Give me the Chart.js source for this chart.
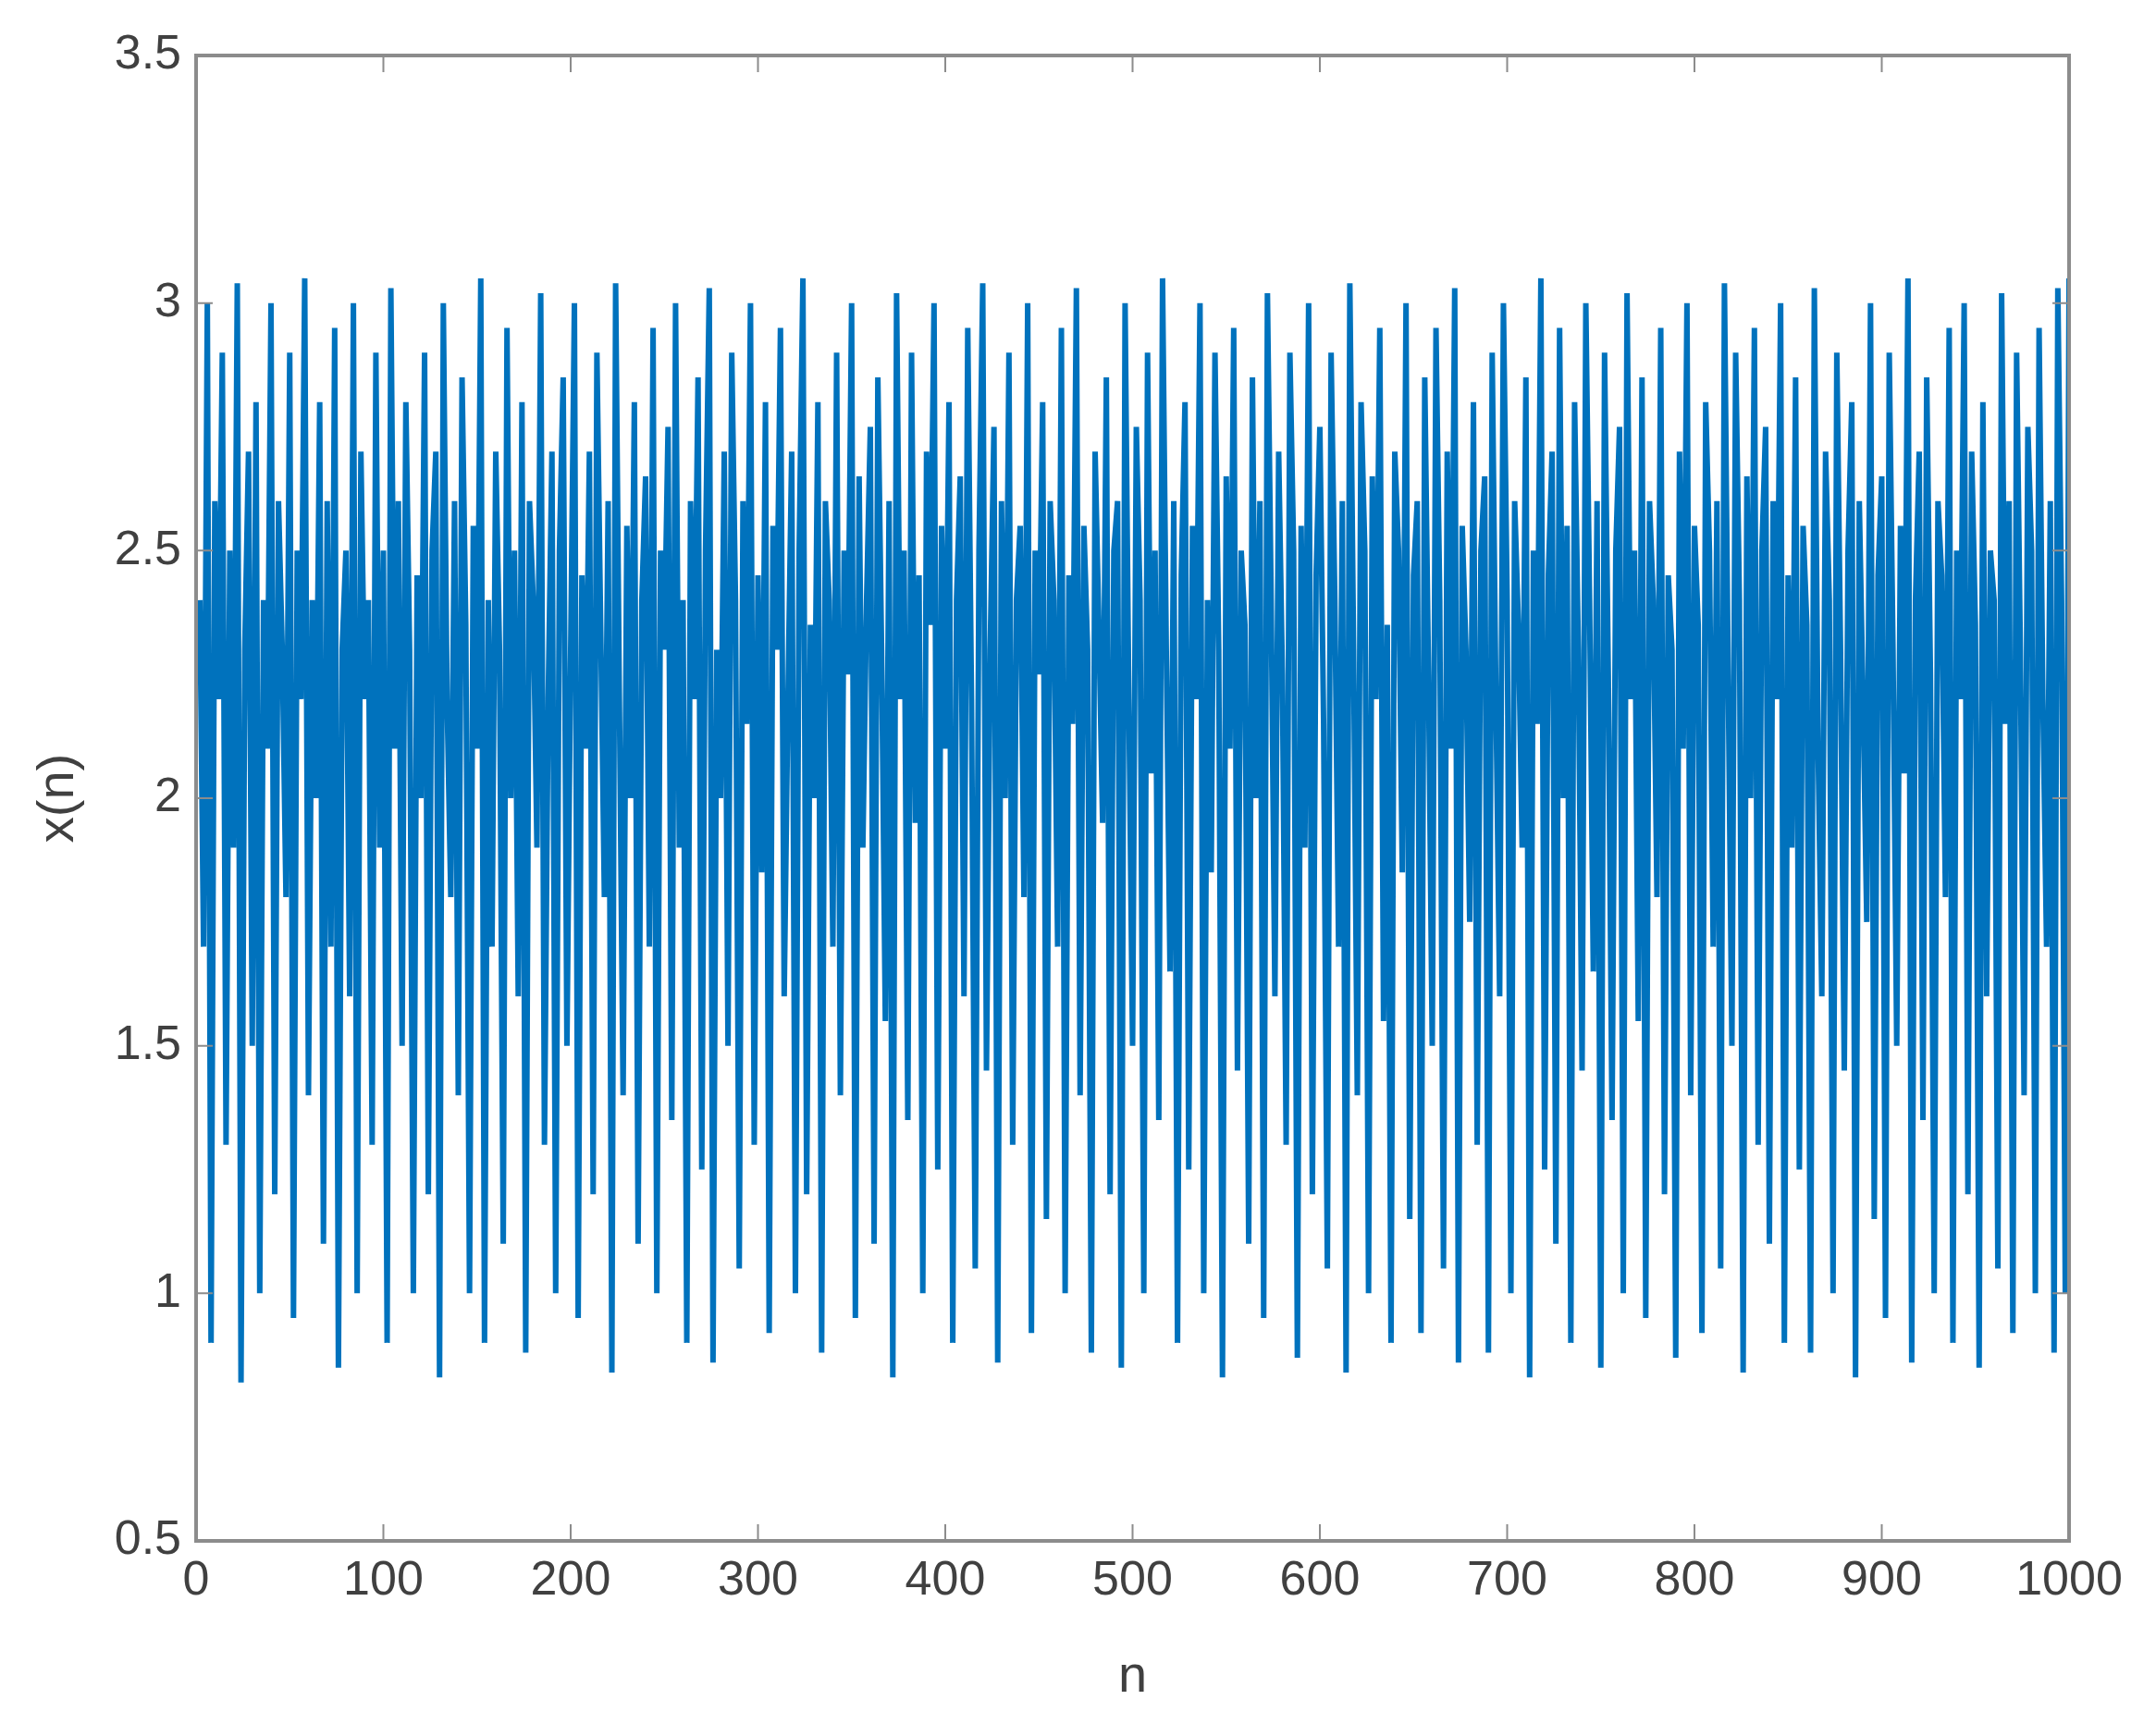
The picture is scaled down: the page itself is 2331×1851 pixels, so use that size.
<!DOCTYPE html>
<html><head><meta charset="utf-8">
<script src="https://cdn.jsdelivr.net/npm/chart.js@4/dist/chart.umd.min.js"></script>
<style>html,body{margin:0;padding:0;background:#fff}#c{display:block}</style>
</head><body>
<canvas id="c" width="2331" height="1851"></canvas>
<script>
const xTicks = [0,100,200,300,400,500,600,700,800,900,1000];
const yTicks = [0.5,1,1.5,2,2.5,3,3.5];
const xValues = [
2.4,1.7,3.0,0.9,2.6,2.2,2.9,1.3,2.5,1.9,3.04,0.82,2.3,2.7,1.5,2.8,1.0,2.4,2.1,3.0,
1.2,2.6,2.3,1.8,2.9,0.95,2.5,2.2,3.05,1.4,2.4,2.0,2.8,1.1,2.6,1.7,2.95,0.85,2.3,2.5,
1.6,3.0,1.0,2.7,2.2,2.4,1.3,2.9,1.9,2.5,0.9,3.03,2.1,2.6,1.5,2.8,2.3,1.0,2.45,2.0,
2.9,1.2,2.5,2.7,0.83,3.0,2.2,1.8,2.6,1.4,2.85,2.35,1.0,2.55,2.1,3.05,0.9,2.4,1.7,2.7,
2.3,1.1,2.95,2.0,2.5,1.6,2.8,0.88,2.6,2.4,1.9,3.02,1.3,2.2,2.7,1.0,2.5,2.85,1.5,2.3,
3.0,0.95,2.45,2.1,2.7,1.2,2.9,2.35,1.8,2.6,0.84,3.04,2.2,1.4,2.55,2.0,2.8,1.1,2.4,2.65,
1.7,2.95,1.0,2.5,2.3,2.75,1.35,3.0,1.9,2.4,0.9,2.6,2.2,2.85,1.25,2.5,3.03,0.86,2.3,2.0,
2.7,1.5,2.9,2.4,1.05,2.6,2.15,3.0,1.3,2.45,1.85,2.8,0.92,2.55,2.3,2.95,1.6,2.2,2.7,1.0,
2.5,3.05,1.2,2.35,2.0,2.8,0.88,2.6,2.4,1.7,2.9,1.4,2.5,2.25,3.0,0.95,2.65,1.9,2.4,2.75,
1.1,2.85,2.3,1.55,2.6,0.83,3.02,2.2,2.5,1.35,2.9,1.95,2.45,1.0,2.7,2.35,3.0,1.25,2.55,2.1,
2.8,0.9,2.4,2.65,1.6,2.95,2.2,1.05,2.5,3.04,1.45,2.3,2.75,0.86,2.6,2.0,2.9,1.3,2.4,2.55,
1.8,3.0,0.92,2.5,2.25,2.8,1.15,2.6,2.4,1.7,2.95,1.0,2.45,2.15,3.03,1.4,2.55,2.3,0.88,2.7,
2.35,1.95,2.85,1.2,2.5,2.6,0.85,3.0,2.2,1.5,2.75,2.4,1.0,2.9,2.05,2.5,1.35,3.05,2.3,1.65,
2.6,0.9,2.45,2.8,1.25,2.55,2.2,3.0,1.0,2.4,1.85,2.9,2.3,0.83,2.65,2.1,2.95,1.45,2.5,2.35,
1.1,2.85,2.0,2.6,0.95,3.02,2.4,1.6,2.7,2.25,1.3,2.9,2.5,0.87,2.55,1.9,3.0,1.2,2.45,2.75,
2.15,1.05,2.9,2.4,1.7,2.6,0.84,3.04,2.3,1.4,2.8,2.5,1.0,2.65,2.2,2.95,1.55,2.35,0.9,2.7,
2.5,1.85,3.0,1.15,2.45,2.6,0.92,2.85,2.25,1.5,2.95,2.4,1.05,2.7,2.1,3.03,0.86,2.55,2.3,1.75,
2.8,1.3,2.5,2.65,0.88,2.9,2.2,1.6,3.0,2.4,1.0,2.6,2.35,1.9,2.85,0.83,2.5,2.15,3.05,1.25,
2.45,2.7,1.1,2.95,2.0,2.55,0.9,2.8,2.3,1.45,3.0,2.4,1.65,2.6,0.85,2.9,2.25,1.35,2.5,2.75,
1.0,3.02,2.2,2.5,1.55,2.85,0.95,2.6,2.4,1.8,2.95,1.2,2.45,2.3,0.87,2.7,2.1,3.0,1.4,2.55,
2.35,0.92,2.8,2.5,1.7,2.6,1.05,3.04,2.25,1.5,2.9,2.4,0.84,2.65,2.0,2.95,1.3,2.5,2.75,1.1,
2.6,2.2,3.0,0.9,2.45,1.9,2.85,1.25,2.55,2.35,0.88,3.03,2.1,1.6,2.7,2.4,1.0,2.9,2.3,1.45,
2.5,2.8,0.83,2.6,2.2,1.75,3.0,1.15,2.45,2.65,0.95,2.9,2.3,1.5,2.55,2.05,3.05,0.86,2.4,2.7,
1.35,2.85,2.25,1.0,2.6,2.45,1.8,2.95,0.9,2.5,2.2,3.0,1.2,2.7,2.35,0.85,2.8,1.6,2.5,2.4,
1.05,3.02,2.15,2.6,0.92,2.9,2.3,1.4,2.75,2.5,1.0,2.95,2.2,1.7,2.6,0.88,3.03,2.4,1.0,3.05
];
const points = xValues.map((v,i)=>({x:(i+1)*2, y:v}));
const frame = {
  id:'frame',
  afterDraw(chart){
    const {ctx, chartArea:a, scales:{x,y}} = chart;
    ctx.save();
    ctx.strokeStyle='#8c8c8c'; ctx.lineWidth=4;
    ctx.strokeRect(a.left,a.top,a.right-a.left,a.bottom-a.top);
    ctx.lineWidth=2;
    xTicks.forEach(t=>{const p=x.getPixelForValue(t);
      ctx.beginPath();ctx.moveTo(p,a.bottom);ctx.lineTo(p,a.bottom-18);ctx.moveTo(p,a.top);ctx.lineTo(p,a.top+18);ctx.stroke();});
    yTicks.forEach(t=>{const p=y.getPixelForValue(t);
      ctx.beginPath();ctx.moveTo(a.left,p);ctx.lineTo(a.left+18,p);ctx.moveTo(a.right,p);ctx.lineTo(a.right-18,p);ctx.stroke();});
    ctx.restore();
  }
};
new Chart(document.getElementById('c'),{
  type:'line',
  data:{datasets:[{data:points,borderColor:'#0072BD',borderWidth:6,pointRadius:0,tension:0,fill:false}]},
  options:{
    responsive:false,animation:false,
    layout:{padding:{top:60,right:94,left:0,bottom:0}},
    plugins:{legend:{display:false},tooltip:{enabled:false}},
    scales:{
      x:{type:'linear',min:0,max:1000,
        afterBuildTicks(s){s.ticks=xTicks.map(v=>({value:v}));},
        afterFit(s){s.height=185;},
        grid:{display:false},border:{display:false},
        ticks:{font:{family:'Liberation Sans',size:52},color:'#404040',padding:4,maxRotation:0,callback:v=>String(v)},
        title:{display:true,text:'n',font:{family:'Liberation Sans',size:56},color:'#404040',padding:{top:0}}},
      y:{min:0.5,max:3.5,
        afterBuildTicks(s){s.ticks=yTicks.map(v=>({value:v}));},
        afterFit(s){s.width=212;},
        grid:{display:false},border:{display:false},
        ticks:{font:{family:'Liberation Sans',size:52},color:'#404040',padding:8,callback:v=>String(v)},
        title:{display:true,text:'x(n)',font:{family:'Liberation Sans',size:56},color:'#404040',padding:{top:30,bottom:0}}}
    }
  },
  plugins:[frame]
});
</script>
</body></html>
